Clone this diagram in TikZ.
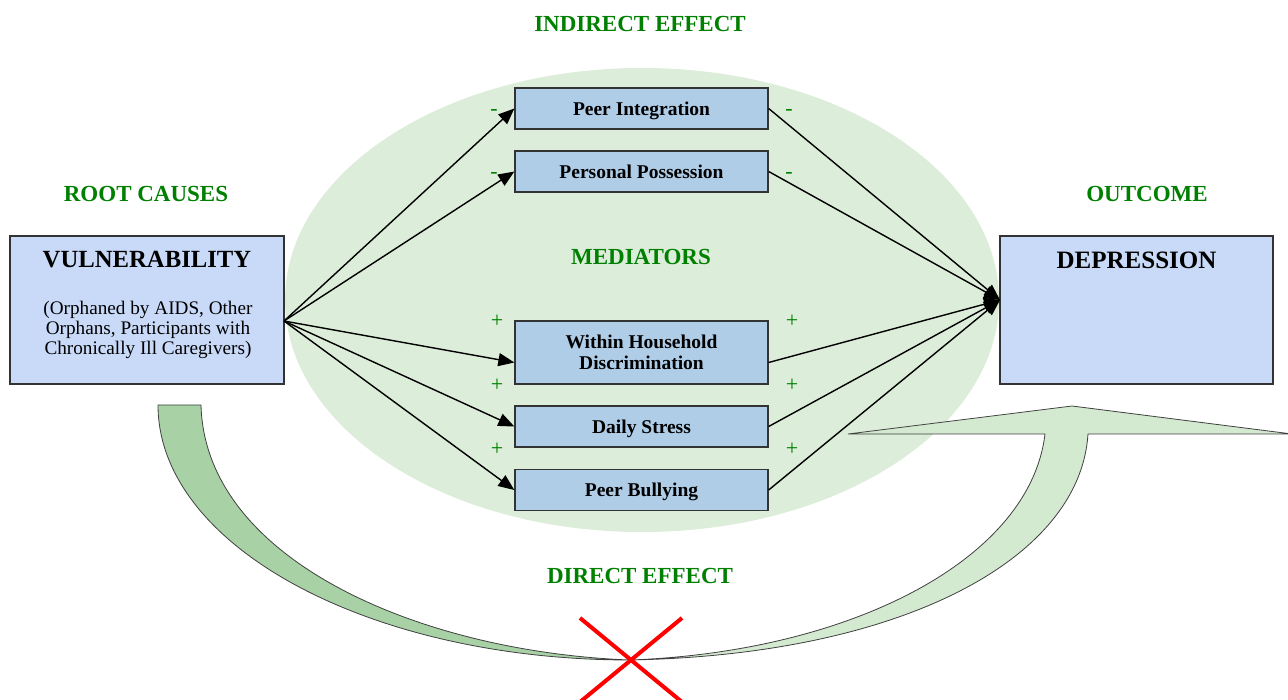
\documentclass[tikz,border=0pt]{standalone}
\usepackage{fontspec}
\setmainfont{Liberation Serif}
\usetikzlibrary{arrows.meta}
\definecolor{ellg}{HTML}{DCEDD9}
\definecolor{medb}{HTML}{B0CDE8}
\definecolor{boxb}{HTML}{C9DAF8}
\definecolor{hgreen}{HTML}{008000}
\definecolor{bandL}{HTML}{A8D1A5}
\definecolor{bandR}{HTML}{D3E9D0}
\begin{document}
\begin{tikzpicture}[x=1pt,y=-1pt,
 medbox/.style={draw=black!80, line width=1.3pt, fill=medb, minimum width=253pt, minimum height=41pt, align=center, inner sep=0pt, text depth=0pt, font=\fontsize{19.5}{21}\selectfont\bfseries},
 bigbox/.style={draw=black!80, line width=1.3pt, fill=boxb, minimum width=274pt, minimum height=148pt, inner sep=0pt},
 heading/.style={text=hgreen, font=\fontsize{23}{26}\selectfont\bfseries, inner sep=0pt},
 sign/.style={text=hgreen, font=\fontsize{22}{24}\selectfont, inner sep=0pt},
 arr/.style={line width=1.4pt, -{Triangle[length=16pt,width=13pt]}},
 band/.style={draw=black!75, line width=0.8pt},
 ]
\useasboundingbox (0,0) rectangle (1288,700);
% background ellipse
\fill[ellg] (642,300) ellipse [x radius=357pt, y radius=232pt];
% left band
\path[band, fill=bandL] (158,405) -- (201,405)
  .. controls (205,560) and (420,652) .. (630,660)
  .. controls (369,660) and (158,546) .. cycle;
% right band with head
\path[band, fill=bandR] (630,660)
  .. controls (900,655) and (1080,560) .. (1088,434)
  -- (1292,434) -- (1072,406) -- (848,434) -- (1045,434)
  .. controls (1030,560) and (850,652) .. cycle;
% red cross
\draw[red, line width=4pt] (580,618) -- (682,702);
\draw[red, line width=4pt] (682,618) -- (580,702);
% boxes
\node[bigbox] (vuln) at (147,310) {};
\node[font=\fontsize{24.7}{28}\selectfont\bfseries, inner sep=0pt] (vulnT) at (147,260) {VULNERABILITY};
\node[font=\fontsize{19.2}{20}\selectfont, align=center, inner sep=0pt] (vulnB) at (148,330) {(Orphaned by AIDS, Other\\Orphans, Participants with\\Chronically Ill Caregivers)};
\node[bigbox, minimum width=273pt] (dep) at (1136.5,310) {};
\node[font=\fontsize{25}{28}\selectfont\bfseries, inner sep=0pt] (depT) at (1136.5,260) {DEPRESSION};
\node[medbox] (pi) at (641.5,108.5) {Peer Integration};
\node[medbox] (pp) at (641.5,171.5) {Personal Possession};
\node[medbox, minimum height=63pt] (wh) at (641.5,352.5) {Within Household\\Discrimination};
\node[medbox] (ds) at (641.5,426.5) {Daily Stress};
\node[medbox] (pb) at (641.5,490) {Peer Bullying};
% connectors
\coordinate (vout) at (284,321);
\coordinate (conv) at (1000,300);
\draw[arr] (vout) -- (pi.west);
\draw[arr] (vout) -- (pp.west);
\draw[arr] (vout) -- ([yshift=-10pt]wh.west);
\draw[arr] (vout) -- (ds.west);
\draw[arr] (vout) -- (pb.west);
\draw[arr] (pi.east) -- (conv);
\draw[arr] (pp.east) -- (conv);
\draw[arr] ([yshift=-10pt]wh.east) -- (conv);
\draw[arr] (ds.east) -- (conv);
\draw[arr] (pb.east) -- (conv);
% headings
\node[heading] (ind) at (640,24) {INDIRECT EFFECT};
\node[heading] (root) at (146,194) {ROOT CAUSES};
\node[heading] (outc) at (1147,194) {OUTCOME};
\node[heading] (medh) at (641,257) {MEDIATORS};
\node[heading] (dire) at (640,576) {DIRECT EFFECT};
% signs
\node[sign] (s1) at (494,113) {-};
\node[sign] (s2) at (789,113) {-};
\node[sign] (s3) at (494,176) {-};
\node[sign] (s4) at (789,176) {-};
\node[sign] (s5) at (497,321) {+};
\node[sign] (s6) at (792,321) {+};
\node[sign] (s7) at (497,385) {+};
\node[sign] (s8) at (792,385) {+};
\node[sign] (s9) at (497,449) {+};
\node[sign] (s10) at (792,449) {+};
\end{tikzpicture}
\end{document}
